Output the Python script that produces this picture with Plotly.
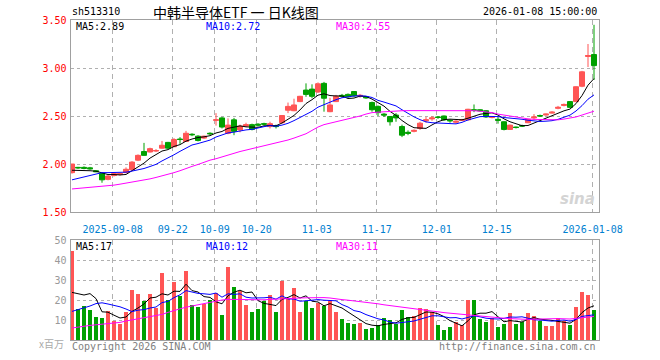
import plotly.graph_objects as go

# ---------------- data ----------------
dates = [
    "2025-08-28", "2025-08-29",
    "2025-09-01", "2025-09-02", "2025-09-03", "2025-09-04", "2025-09-05",
    "2025-09-08", "2025-09-09", "2025-09-10", "2025-09-11", "2025-09-12",
    "2025-09-15", "2025-09-16", "2025-09-17", "2025-09-18", "2025-09-19",
    "2025-09-22", "2025-09-23", "2025-09-24", "2025-09-25", "2025-09-26",
    "2025-09-29", "2025-09-30",
    "2025-10-09", "2025-10-10",
    "2025-10-13", "2025-10-14", "2025-10-15", "2025-10-16", "2025-10-17",
    "2025-10-20", "2025-10-21", "2025-10-22", "2025-10-23", "2025-10-24",
    "2025-10-27", "2025-10-28", "2025-10-29", "2025-10-30", "2025-10-31",
    "2025-11-03", "2025-11-04", "2025-11-05", "2025-11-06", "2025-11-07",
    "2025-11-10", "2025-11-11", "2025-11-12", "2025-11-13", "2025-11-14",
    "2025-11-17", "2025-11-18", "2025-11-19", "2025-11-20", "2025-11-21",
    "2025-11-24", "2025-11-25", "2025-11-26", "2025-11-27", "2025-11-28",
    "2025-12-01", "2025-12-02", "2025-12-03", "2025-12-04", "2025-12-05",
    "2025-12-08", "2025-12-09", "2025-12-10", "2025-12-11", "2025-12-12",
    "2025-12-15", "2025-12-16", "2025-12-17", "2025-12-18", "2025-12-19",
    "2025-12-22", "2025-12-23", "2025-12-24", "2025-12-25", "2025-12-26",
    "2025-12-29", "2025-12-30", "2025-12-31",
    "2026-01-05", "2026-01-06", "2026-01-07", "2026-01-08",
]

opens = [1.91, 1.965, 1.965, 1.96, 1.93, 1.90, 1.84, 1.88, 1.89, 1.91,
         1.94, 2.04, 2.13, 2.125, 2.135, 2.165, 2.225, 2.18, 2.26, 2.235,
         2.31, 2.29, 2.27, 2.32, 2.455, 2.48, 2.32, 2.46, 2.355, 2.395,
         2.41, 2.415, 2.42, 2.39, 2.40, 2.43, 2.56, 2.555, 2.65, 2.77,
         2.78, 2.75, 2.84, 2.545, 2.65, 2.715, 2.725, 2.755, 2.705, 2.70,
         2.64, 2.60, 2.52, 2.495, 2.51, 2.39, 2.33, 2.34, 2.37, 2.45,
         2.47, 2.49, 2.50, 2.455, 2.435, 2.455, 2.46, 2.565, 2.565, 2.555,
         2.485, 2.465, 2.44, 2.36, 2.385, 2.40, 2.43, 2.48, 2.505, 2.51,
         2.53, 2.58, 2.61, 2.65, 2.65, 2.81, 3.12, 3.14]
highs = [2.00, 1.97, 1.975, 1.97, 1.935, 1.91, 1.885, 1.91, 1.91, 1.965,
         2.03, 2.10, 2.22, 2.17, 2.155, 2.24, 2.23, 2.27, 2.28, 2.345,
         2.32, 2.30, 2.295, 2.33, 2.53, 2.49, 2.475, 2.48, 2.41, 2.43,
         2.42, 2.425, 2.43, 2.44, 2.41, 2.51, 2.64, 2.68, 2.71, 2.84,
         2.83, 2.85, 2.855, 2.69, 2.72, 2.73, 2.735, 2.76, 2.73, 2.705,
         2.65, 2.61, 2.53, 2.50, 2.53, 2.41, 2.35, 2.36, 2.44, 2.49,
         2.50, 2.50, 2.505, 2.465, 2.455, 2.47, 2.575, 2.62, 2.57, 2.56,
         2.50, 2.49, 2.445, 2.41, 2.39, 2.41, 2.47, 2.52, 2.515, 2.525,
         2.55, 2.605, 2.63, 2.655, 2.81, 2.97, 3.25, 3.45]
lows = [1.90, 1.95, 1.945, 1.94, 1.915, 1.805, 1.83, 1.87, 1.88, 1.905,
        1.93, 2.03, 2.085, 2.12, 2.125, 2.16, 2.155, 2.175, 2.21, 2.23,
        2.29, 2.235, 2.26, 2.30, 2.40, 2.37, 2.31, 2.30, 2.33, 2.385,
        2.35, 2.39, 2.40, 2.37, 2.37, 2.42, 2.53, 2.55, 2.645, 2.70,
        2.685, 2.74, 2.545, 2.54, 2.645, 2.69, 2.69, 2.70, 2.69, 2.68,
        2.545, 2.50, 2.49, 2.40, 2.44, 2.28, 2.30, 2.33, 2.355, 2.43,
        2.45, 2.47, 2.45, 2.43, 2.42, 2.45, 2.455, 2.54, 2.545, 2.48,
        2.475, 2.42, 2.35, 2.355, 2.37, 2.385, 2.425, 2.46, 2.49, 2.505,
        2.525, 2.57, 2.60, 2.585, 2.645, 2.80, 3.01, 2.875]
closes = [2.00, 1.96, 1.955, 1.95, 1.92, 1.835, 1.875, 1.90, 1.90, 1.945,
          2.02, 2.09, 2.09, 2.16, 2.14, 2.195, 2.165, 2.255, 2.255, 2.32,
          2.305, 2.245, 2.29, 2.315, 2.46, 2.385, 2.405, 2.34, 2.395, 2.41,
          2.36, 2.405, 2.415, 2.42, 2.39, 2.505, 2.60, 2.615, 2.705, 2.725,
          2.705, 2.835, 2.685, 2.615, 2.705, 2.705, 2.70, 2.71, 2.715, 2.69,
          2.565, 2.535, 2.51, 2.44, 2.48, 2.30, 2.32, 2.35, 2.425, 2.46,
          2.48, 2.485, 2.46, 2.45, 2.445, 2.46, 2.57, 2.56, 2.555, 2.49,
          2.49, 2.455, 2.36, 2.405, 2.38, 2.395, 2.465, 2.49, 2.50, 2.52,
          2.54, 2.59, 2.62, 2.59, 2.805, 2.96, 3.13, 3.025]

ma5 = [1.935, 1.935, 1.935, 1.93, 1.925, 1.905, 1.89, 1.89, 1.886, 1.891,
       1.928, 1.971, 2.009, 2.061, 2.10, 2.135, 2.15, 2.183, 2.202, 2.238,
       2.26, 2.276, 2.283, 2.295, 2.323, 2.339, 2.371, 2.381, 2.397, 2.387,
       2.382, 2.382, 2.397, 2.402, 2.398, 2.427, 2.466, 2.506, 2.563, 2.63,
       2.67, 2.717, 2.731, 2.713, 2.709, 2.709, 2.682, 2.687, 2.707, 2.704,
       2.676, 2.643, 2.603, 2.548, 2.506, 2.453, 2.41, 2.378, 2.375, 2.371,
       2.407, 2.44, 2.462, 2.467, 2.464, 2.46, 2.477, 2.497, 2.518, 2.527,
       2.533, 2.51, 2.47, 2.44, 2.418, 2.399, 2.401, 2.427, 2.446, 2.474,
       2.503, 2.528, 2.554, 2.572, 2.629, 2.713, 2.821, 2.89]
ma10 = [1.835, 1.85, 1.865, 1.885, 1.90, 1.91, 1.91, 1.91, 1.91, 1.915,
        1.926, 1.939, 1.953, 1.974, 1.996, 2.032, 2.061, 2.096, 2.132, 2.169,
        2.198, 2.213, 2.233, 2.249, 2.281, 2.30, 2.324, 2.332, 2.346, 2.355,
        2.361, 2.377, 2.389, 2.40, 2.393, 2.405, 2.424, 2.452, 2.483, 2.514,
        2.549, 2.592, 2.619, 2.638, 2.670, 2.690, 2.700, 2.709, 2.710, 2.707,
        2.693, 2.663, 2.645, 2.628, 2.605, 2.565, 2.527, 2.491, 2.462, 2.439,
        2.430, 2.425, 2.420, 2.421, 2.418, 2.434, 2.459, 2.480, 2.493, 2.496,
        2.497, 2.494, 2.484, 2.479, 2.473, 2.466, 2.456, 2.449, 2.443, 2.446,
        2.451, 2.465, 2.491, 2.509, 2.552, 2.608, 2.675, 2.72]
ma30 = [1.74, 1.745, 1.75, 1.755, 1.76, 1.77, 1.775, 1.78, 1.79, 1.80,
        1.81, 1.82, 1.835, 1.845, 1.86, 1.875, 1.89, 1.91, 1.93, 1.955,
        1.975, 1.995, 2.02, 2.04, 2.055, 2.075, 2.095, 2.11, 2.13, 2.145,
        2.16, 2.17, 2.185, 2.20, 2.215, 2.23, 2.25, 2.27, 2.29, 2.315,
        2.35, 2.385, 2.41, 2.425, 2.44, 2.45, 2.465, 2.48, 2.50, 2.52,
        2.535, 2.54, 2.545, 2.55, 2.552, 2.555, 2.556, 2.556, 2.557, 2.558,
        2.558, 2.56, 2.56, 2.562, 2.562, 2.562, 2.56, 2.555, 2.55, 2.545,
        2.535, 2.52, 2.51, 2.495, 2.485, 2.478, 2.47, 2.465, 2.462, 2.46,
        2.458, 2.46, 2.468, 2.476, 2.49, 2.51, 2.53, 2.55]

volumes = [44.5, 15.5, 17, 15, 11.7, 11.2, 14.5, 9.7, 8, 14.2,
           25, 23, 19.7, 23, 16.2, 33.7, 20, 29.2, 22.2, 34.5,
           17.5, 16.5, 17.8, 20, 23.7, 12.5, 36.7, 26.7, 24.7, 17.5,
           14.2, 15.5, 19.5, 22.5, 14.2, 29.7, 20.8, 26.2, 14.2, 19.5,
           16.2, 18.7, 17, 19.5, 14.2, 10.5, 8.7, 8, 8.5, 5.5,
           6.2, 7.5, 11.2, 10, 8, 15, 11.5, 12, 16.2, 15.5,
           14.2, 7.5, 5, 6.5, 8.8, 7.5, 20, 20, 10.5, 9.2,
           11.2, 6.5, 8, 13.5, 8, 8.8, 13.5, 12, 9.7, 7,
           7, 10.8, 9.7, 7.5, 16.5, 24, 22.5, 15]
vma5 = [23.8, 23.0, 22.5, 23.2, 20.7, 14.1, 13.9, 12.4, 11.0, 11.5,
        14.3, 16.0, 18.0, 21.0, 21.4, 23.1, 22.5, 24.4, 24.3, 27.9,
        24.7, 24.0, 21.7, 21.3, 19.1, 18.1, 22.1, 23.9, 24.9, 23.6,
        24.0, 19.7, 18.3, 17.8, 17.2, 20.3, 21.3, 22.7, 21.0, 22.1,
        19.4, 19.0, 17.1, 18.2, 17.1, 16.0, 14.0, 12.2, 10.0, 8.2,
        7.4, 7.1, 7.8, 8.1, 8.6, 10.3, 11.1, 11.3, 12.5, 14.0,
        13.9, 13.1, 11.7, 9.7, 8.4, 7.1, 9.6, 12.6, 13.4, 13.4,
        14.2, 11.5, 9.1, 9.7, 9.4, 9.0, 10.4, 11.2, 10.4, 10.2,
        9.8, 9.3, 8.8, 8.4, 10.3, 13.7, 16.0, 17.1]
vma10 = [14.3, 15.2, 16.0, 17.0, 18.2, 18.6, 18.0, 17.4, 16.6, 15.5,
         14.2, 14.9, 15.2, 16.0, 16.5, 18.7, 19.3, 21.2, 22.6, 24.7,
         23.9, 23.3, 23.1, 22.8, 23.5, 21.4, 23.1, 22.8, 23.1, 21.4,
         21.0, 20.9, 21.1, 21.4, 20.4, 22.1, 20.5, 20.5, 19.4, 19.6,
         19.8, 20.2, 19.9, 19.6, 19.6, 17.7, 16.5, 14.7, 14.1, 12.7,
         11.7, 10.6, 10.0, 9.0, 8.4, 8.9, 9.1, 9.5, 10.3, 11.3,
         12.1, 12.1, 11.5, 11.1, 11.2, 10.5, 11.3, 12.1, 11.6, 10.9,
         10.6, 10.5, 10.8, 11.5, 11.4, 11.6, 10.9, 10.1, 10.0, 9.8,
         9.4, 9.8, 10.0, 9.4, 10.3, 11.8, 12.2, 12.6]
vma30 = [6.0, 6.5, 7.0, 7.3, 7.6, 7.9, 8.2, 8.5, 8.8, 9.5,
         10.0, 10.6, 11.2, 11.8, 12.3, 12.8, 13.8, 14.8, 15.6, 16.4,
         17.0, 17.6, 18.2, 19.0, 19.5, 20.0, 20.3, 20.4, 20.3, 20.2,
         20.1, 20.1, 20.1, 20.3, 20.5, 20.6, 20.8, 20.9, 21.0, 21.1,
         21.2, 21.2, 21.2, 21.0, 20.5, 20.2, 19.9, 19.6, 19.3, 18.9,
         18.5, 18.1, 17.6, 17.2, 16.8, 16.3, 15.9, 15.4, 15.0, 14.7,
         14.3, 14.0, 13.7, 13.4, 13.1, 12.8, 12.5, 12.2, 11.9, 11.5,
         11.3, 11.1, 10.9, 10.7, 10.5, 10.4, 10.3, 10.4, 10.5, 10.7,
         10.8, 10.7, 10.6, 10.5, 10.8, 11.2, 11.6, 11.8]

tick_dates = ["2025-09-08", "2025-09-22", "2025-10-09", "2025-10-20", "2025-11-03",
              "2025-11-17", "2025-12-01", "2025-12-15", "2026-01-08"]
tick_labels = ["2025-09-08", "09-22", "10-09", "10-20", "11-03",
               "11-17", "12-01", "12-15", "2026-01-08"]
price_ticks = [1.5, 2.0, 2.5, 3.0, 3.5]
vol_ticks = [10, 20, 30, 40, 50]

# ---------------- styling ----------------
W, H = 660, 360
UP = "#ff5555"
DOWN = "#00a000"
MONO = "DejaVu Sans Mono"
CJK = "Noto Sans CJK SC"
BORDER = "#a0a0a0"
GRID = "#b0b0b0"

def px(x):
    return x / W

def py(y):
    return 1 - y / H

idx = list(range(len(dates)))
tickpos = [dates.index(d) - 0.22 for d in tick_dates]
vol_colors = [UP if c >= o else DOWN for o, c in zip(opens, closes)]

fig = go.Figure()
fig.add_trace(go.Candlestick(
    x=idx, open=opens, high=highs, low=lows, close=closes,
    increasing=dict(line=dict(color=UP, width=1), fillcolor=UP),
    decreasing=dict(line=dict(color=DOWN, width=1), fillcolor=DOWN),
    whiskerwidth=0, showlegend=False, hoverinfo="skip",
    xaxis="x", yaxis="y"))
for arr, col in ((ma5, "#000000"), (ma10, "#0000ff"), (ma30, "#ff00ff")):
    fig.add_trace(go.Scatter(x=idx, y=arr, mode="lines",
                             line=dict(color=col, width=1),
                             showlegend=False, hoverinfo="skip",
                             xaxis="x", yaxis="y"))

fig.add_trace(go.Bar(x=idx, y=volumes, marker=dict(color=vol_colors, line=dict(width=0)),
                     width=0.82, showlegend=False, hoverinfo="skip",
                     xaxis="x2", yaxis="y2"))
for arr, col in ((vma5, "#000000"), (vma10, "#0000ff"), (vma30, "#ff00ff")):
    fig.add_trace(go.Scatter(x=idx, y=arr, mode="lines",
                             line=dict(color=col, width=1),
                             showlegend=False, hoverinfo="skip",
                             xaxis="x2", yaxis="y2"))

xdom = [px(70.5), px(598.5)]
xr = [-0.25, 87.75]
common_x = dict(domain=xdom, range=xr, tickvals=tickpos, showgrid=True,
                gridcolor=GRID, griddash="5px,4px", gridwidth=1,
                showline=True, mirror=True, linecolor=BORDER, linewidth=1,
                zeroline=False, fixedrange=True)

fig.update_layout(
    width=W, height=H,
    margin=dict(l=0, r=0, t=0, b=0, autoexpand=False),
    paper_bgcolor="white", plot_bgcolor="white",
    boxgap=0.12, boxgroupgap=0.05,
    bargap=0,
    xaxis=dict(**common_x, anchor="y", ticktext=tick_labels,
               tickfont=dict(family=MONO, size=10, color="#0080d0"),
               ticks="", ticklabelstandoff=8,
               rangeslider=dict(visible=False)),
    yaxis=dict(domain=[py(212), py(20)], range=[1.5, 3.5], anchor="x",
               tickvals=price_ticks, ticktext=["%.2f" % v for v in price_ticks],
               tickfont=dict(family=MONO, size=10, color="#ff0000"),
               ticks="", ticklabelstandoff=1,
               showgrid=True, gridcolor=GRID, griddash="dot", gridwidth=1,
               showline=True, mirror=True, linecolor=BORDER, linewidth=1,
               zeroline=False, fixedrange=True),
    xaxis2=dict(**common_x, anchor="y2", showticklabels=False, ticks=""),
    yaxis2=dict(domain=[py(340), py(240)], range=[0, 50], anchor="x2",
                tickvals=vol_ticks, ticktext=[str(v) for v in vol_ticks],
                tickfont=dict(family=MONO, size=10, color="#999999"),
                ticks="", ticklabelstandoff=1,
                showgrid=True, gridcolor=GRID, griddash="dot", gridwidth=1,
                showline=True, mirror=True, linecolor=BORDER, linewidth=1,
                zeroline=False, fixedrange=True),
)

def note(text, x, y, color="#000000", size=10, family=MONO, anchor="left"):
    fig.add_annotation(text=text, x=px(x), y=py(y), xref="paper", yref="paper",
                       xanchor=anchor, yanchor="middle", showarrow=False,
                       font=dict(family=family, size=size, color=color))

note("sh513310", 70, 12)
note("中韩半导体ETF 一 日K线图", 151, 12, size=14, family=CJK)
note("2026-01-08 15:00:00", 599, 12, anchor="right")

note("MA5:%.2f" % ma5[-1], 74, 27)
note("MA10:%.2f" % ma10[-1], 204, 27, color="#0000ff")
note("MA30:%.2f" % ma30[-1], 334, 27, color="#ff00ff")

note("MA5:%d" % round(vma5[-1]), 74, 246)
note("MA10:12", 204, 246, color="#0000ff")
note("MA30:11", 334, 246, color="#ff00ff")

note("x百万", 66, 343, color="#aaaaaa", size=10, family=CJK, anchor="right")
note("Copyright 2026 SINA.COM", 70, 346, color="#808080")
note("http://finance.sina.com.cn", 598, 346, color="#808080", anchor="right")
note("<b><i>sina</i></b>", 597, 199, color="#d4d4d4", size=15,
     family="DejaVu Sans", anchor="right")

fig.write_html("out.html",
               config={"displayModeBar": False, "staticPlot": True},
               post_script="document.body.style.margin='0px';"
                           "document.body.style.overflow='hidden';")
